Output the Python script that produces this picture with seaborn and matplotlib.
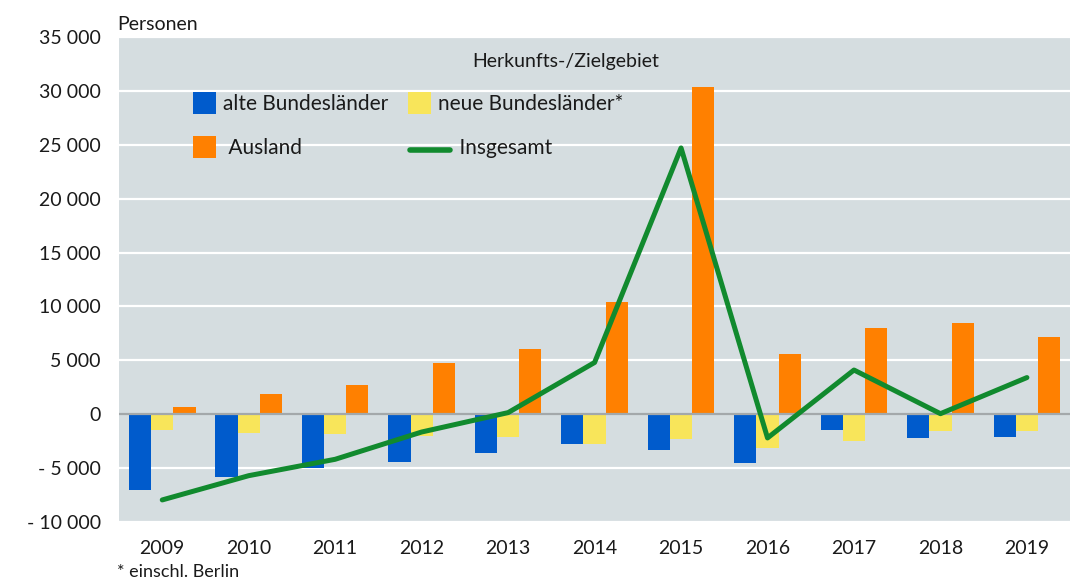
import numpy as np
import pandas as pd
import matplotlib
matplotlib.use("Agg")
import matplotlib.pyplot as plt
import seaborn as sns
from matplotlib.patches import Patch, Rectangle
from matplotlib.lines import Line2D
from matplotlib.legend_handler import HandlerBase
from matplotlib.ticker import FuncFormatter

years = ["2009", "2010", "2011", "2012", "2013", "2014", "2015", "2016", "2017", "2018", "2019"]
alte = [-7050, -5790, -5010, -4390, -3620, -2750, -3310, -4480, -1460, -2230, -2100]
neue = [-1460, -1700, -1830, -2010, -2070, -2750, -2320, -3090, -2440, -1550, -1550]
ausland = [680, 1860, 2720, 4760, 6060, 10420, 30340, 5540, 8040, 8470, 7170]
insgesamt = [-7950, -5700, -4180, -1650, 150, 4800, 24700, -2200, 4100, 50, 3400]

series_names = ["alte Bundesländer", "neue Bundesländer*", "Ausland"]
colors = ["#005BCC", "#F8E55A", "#FF8000"]
green = "#118A2E"

df = pd.DataFrame({
    "Jahr": years * 3,
    "Gebiet": [series_names[0]] * 11 + [series_names[1]] * 11 + [series_names[2]] * 11,
    "Wert": alte + neue + ausland,
})

sns.set_theme(style="white")
plt.rcParams["font.family"] = ["Lato", "DejaVu Sans"]

fig = plt.figure(figsize=(10.87, 5.81), dpi=100)
ax = fig.add_axes([0.1095, 0.1015, 0.875, 0.835])
ax.set_facecolor("#D5DDE0")

sns.barplot(data=df, x="Jahr", y="Wert", hue="Gebiet", palette=colors,
            width=0.77, linewidth=0, saturation=1, ax=ax, legend=False, zorder=3)
sns.lineplot(x=np.arange(len(years)), y=insgesamt, color=green, linewidth=3.6,
             ax=ax, zorder=5, solid_capstyle="round")

ax.set_xlim(-0.5, len(years) - 0.5)
ax.set_ylim(-10000, 35000)
ax.set_yticks(np.arange(-10000, 35001, 5000))
ax.set_xticks(np.arange(len(years)))
ax.set_xticklabels(years)

def fmt(v, pos):
    v = int(round(v))
    s = f"{abs(v):,}".replace(",", " ")
    return ("- " + s) if v < 0 else s
ax.yaxis.set_major_formatter(FuncFormatter(fmt))

for y in np.arange(-10000, 35001, 5000):
    if y == 0:
        continue
    ax.axhline(y, color="white", linewidth=1.6, zorder=1)
ax.axhline(0, color="#A3A8AA", linewidth=1.6, zorder=4)

for s in ax.spines.values():
    s.set_visible(False)
ax.tick_params(axis="both", length=0, labelsize=14, colors="#1a1a1a", pad=13)
ax.set_xlabel("")
ax.set_ylabel("")

fig.text(117 / 1087, 1 - 24 / 581, "Personen", fontsize=14, ha="left", va="center", color="#1a1a1a")
fig.text(117 / 1087, 1 - 572 / 581, "* einschl. Berlin", fontsize=13, ha="left", va="center", color="#1a1a1a")

ax.text(566 / 1087, 1 - 61 / 581, "Herkunfts-/Zielgebiet", transform=fig.transFigure,
        fontsize=14, ha="center", va="center", color="#1a1a1a")


class SquareHandler(HandlerBase):
    def create_artists(self, legend, orig_handle, xdescent, ydescent, width, height, fontsize, trans):
        s = width
        y0 = -ydescent + (height - s) / 2
        r = Rectangle((-xdescent, y0), s, s, facecolor=orig_handle.get_facecolor(),
                      edgecolor="none", transform=trans)
        return [r]


class LongLineHandler(HandlerBase):
    def create_artists(self, legend, orig_handle, xdescent, ydescent, width, height, fontsize, trans):
        y = -ydescent + height / 2 - height * 0.15
        length = width * 45 / 23
        l = Line2D([-xdescent + 2, -xdescent + length - 2], [y, y], color=orig_handle.get_color(),
                   linewidth=orig_handle.get_linewidth(), solid_capstyle="round", transform=trans)
        return [l]


p_alte = Patch(facecolor=colors[0], label=series_names[0])
p_aus = Patch(facecolor=colors[2], label=" Ausland")
p_neue = Patch(facecolor=colors[1], label=series_names[1])
l_ins = Line2D([0], [0], color=green, linewidth=4, label="    Insgesamt")
handles = [p_alte, p_aus, p_neue, l_ins]
leg = ax.legend(handles=handles, ncol=2, loc="upper left",
                bbox_to_anchor=(193 / 1087, 1 - 93 / 581), bbox_transform=fig.transFigure,
                frameon=False, fontsize=15, handlelength=1.1, handleheight=1.1,
                handletextpad=0.36, columnspacing=0.91, labelspacing=1.1, borderpad=0,
                borderaxespad=0,
                handler_map={Patch: SquareHandler(), Line2D: LongLineHandler()})
for t in leg.get_texts():
    t.set_color("#1a1a1a")

fig.savefig("out.png", dpi=100)
